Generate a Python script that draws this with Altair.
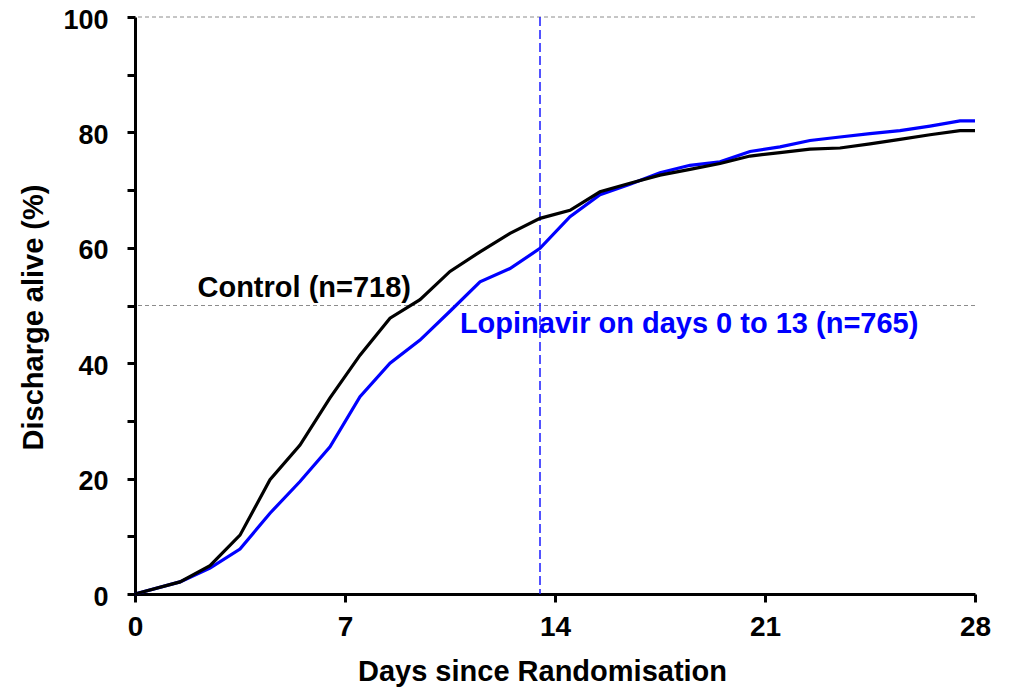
import altair as alt
import pandas as pd

days = [0, 1.5, 2.5, 3.5, 4.5, 5.5, 6.5, 7.5, 8.5, 9.5, 10.5, 11.5, 12.5, 13.5,
        14.5, 15.5, 16.5, 17.5, 18.5, 19.5, 20.5, 21.5, 22.5, 23.5, 24.5, 25.5,
        26.5, 27.5, 28]
control = [0, 2.1, 4.9, 10.2, 19.8, 25.8, 34.0, 41.4, 47.8, 51.0, 55.9, 59.3,
           62.5, 65.1, 66.5, 69.7, 71.2, 72.6, 73.6, 74.6, 75.9, 76.5, 77.1,
           77.3, 78.0, 78.8, 79.6, 80.3, 80.3]
lopinavir = [0, 2.1, 4.5, 7.8, 14.0, 19.5, 25.5, 34.2, 40.0, 44.0, 49.0, 54.1,
             56.4, 59.9, 65.4, 69.2, 71.0, 73.0, 74.3, 74.9, 76.7, 77.5, 78.6,
             79.2, 79.8, 80.3, 81.1, 82.0, 82.0]
ref_levels = [50, 100]
treatment_end = [13.5]
x_ticks = [0, 7, 14, 21, 28]
y_ticks = list(range(0, 101, 10))

labels = ["Control (n=718)", "Lopinavir on days 0 to 13 (n=765)"]
label_x = [9.2, 10.83]
label_y = [51.5, 45.2]

FONT = "Liberation Sans"
FS = 29

df_c = pd.DataFrame({"day": days, "pct": control})
df_l = pd.DataFrame({"day": days, "pct": lopinavir})

xs = alt.Scale(domain=[0, 28], nice=False, zero=False)
ys = alt.Scale(domain=[0, 100], nice=False)

x_axis = alt.Axis(values=x_ticks, title="Days since Randomisation", grid=False,
                  domainColor="black", domainWidth=3, tickColor="black",
                  tickWidth=3, tickSize=8, labelFont=FONT, labelFontSize=28,
                  labelFontWeight="bold", labelColor="black", labelPadding=11,
                  labelFlush=False,
                  titleFont=FONT, titleFontSize=FS, titleFontWeight="bold",
                  titleColor="black", titleX=407, titleY=86,
                  titleBaseline="alphabetic", titleAlign="center")
y_axis = alt.Axis(values=y_ticks, title="Discharge alive (%)", grid=False,
                  labelExpr="datum.value % 20 == 0 ? datum.label : ''",
                  domainColor="black", domainWidth=3, tickColor="black",
                  tickWidth=3, tickSize=8, labelFont=FONT, labelFontSize=27,
                  labelFontWeight="bold", labelColor="black", labelPadding=19,
                  labelBaseline="alphabetic", labelOffset=11, labelFlush=False,
                  titleFont=FONT, titleFontSize=FS, titleFontWeight="bold",
                  titleColor="black", titleX=-93, titleY=300,
                  titleBaseline="alphabetic", titleAlign="center", titleAngle=-90)


def X(field):
    return alt.X(field, scale=xs, axis=x_axis)


def Y(field):
    return alt.Y(field, scale=ys, axis=y_axis)


hrules = alt.Chart(pd.DataFrame({"lvl": ref_levels})).mark_rule(
    color="#8c8c8c", strokeWidth=1, strokeDash=[4, 3]
).encode(y=Y("lvl:Q"))

vrule = alt.Chart(pd.DataFrame({"d": treatment_end})).mark_rule(
    color="#1a1aff", strokeWidth=1.5, strokeDash=[9, 4]
).encode(x=X("d:Q"))

line_l = alt.Chart(df_l).mark_line(color="#0000ff", strokeWidth=3.2).encode(
    x=X("day:Q"), y=Y("pct:Q"))
line_c = alt.Chart(df_c).mark_line(color="black", strokeWidth=3.2).encode(
    x=X("day:Q"), y=Y("pct:Q"))

txt_c = alt.Chart(pd.DataFrame({"t": [labels[0]], "x": [label_x[0]], "y": [label_y[0]]})).mark_text(
    font=FONT, fontSize=FS, fontWeight="bold", color="black", align="right",
    baseline="alphabetic"
).encode(x=X("x:Q"), y=Y("y:Q"), text="t:N")

txt_l = alt.Chart(pd.DataFrame({"t": [labels[1]], "x": [label_x[1]], "y": [label_y[1]]})).mark_text(
    font=FONT, fontSize=FS, fontWeight="bold", color="#0000ff", align="left",
    baseline="alphabetic"
).encode(x=X("x:Q"), y=Y("y:Q"), text="t:N")

chart = alt.layer(hrules, vrule, line_l, line_c, txt_c, txt_l).properties(
    width=840, height=577,
    autosize=alt.AutoSizeParams(type="none"),
    padding={"left": 127, "top": 9, "right": 33, "bottom": 93},
    background="white",
).configure_view(stroke=None)

chart.save("out.html", embed_options={"renderer": "svg", "actions": False})
